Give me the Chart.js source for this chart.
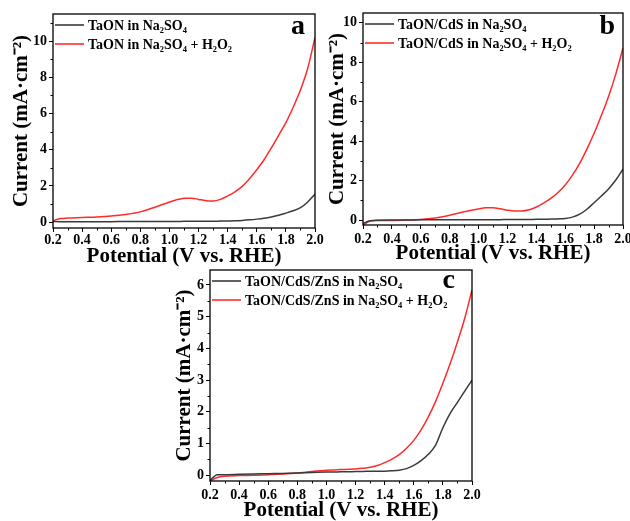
<!DOCTYPE html>
<html>
<head>
    <meta charset="utf-8">
    <title>LSV curves</title>
    <script src="https://cdn.jsdelivr.net/npm/chart.js@4.4.0/dist/chart.umd.min.js"></script>
    <style>
        body { margin: 0; background: #fff; overflow: hidden; width: 630px; height: 521px; position: relative; }
        canvas { position: absolute; }
    </style>
</head>
<body>
    <canvas id="chartA" width="330" height="269" style="left:0px; top:0px;"></canvas>
    <canvas id="chartB" width="315" height="266" style="left:315px; top:0px;"></canvas>
    <canvas id="chartC" width="330" height="261" style="left:160px; top:262px;"></canvas>

    <script>
        // Potential (V vs. RHE)
        const potentials = [0.20, 0.25, 0.30, 0.40, 0.50, 0.60, 0.70, 0.80, 0.90, 1.00, 1.05, 1.10, 1.15, 1.20, 1.25,
            1.30, 1.35, 1.40, 1.45, 1.50, 1.55, 1.60, 1.65, 1.70, 1.75, 1.80, 1.85, 1.90, 1.95, 2.00];

        // Panel a - TaON
        const taonNa2SO4 = [0.04, 0.03, 0.03, 0.03, 0.03, 0.03, 0.04, 0.04, 0.04, 0.04, 0.04, 0.05, 0.05, 0.05, 0.05,
            0.05, 0.06, 0.07, 0.08, 0.10, 0.13, 0.17, 0.22, 0.29, 0.38, 0.50, 0.63, 0.80, 1.12, 1.55];
        const taonH2O2 = [0.09, 0.20, 0.23, 0.26, 0.29, 0.34, 0.43, 0.57, 0.83, 1.12, 1.24, 1.32, 1.33, 1.26, 1.19,
            1.17, 1.26, 1.45, 1.68, 1.98, 2.40, 2.90, 3.45, 4.10, 4.80, 5.50, 6.35, 7.30, 8.50, 10.20];

        // Panel b - TaON/CdS
        const cdsNa2SO4 = [-0.17, -0.03, -0.01, 0.00, 0.00, 0.01, 0.01, 0.02, 0.02, 0.02, 0.02, 0.02, 0.02, 0.03, 0.03,
            0.03, 0.03, 0.04, 0.04, 0.05, 0.06, 0.08, 0.15, 0.30, 0.55, 0.88, 1.22, 1.58, 2.03, 2.58];
        const cdsH2O2 = [-0.25, -0.05, -0.02, -0.02, 0.00, 0.03, 0.10, 0.24, 0.42, 0.56, 0.62, 0.62, 0.57, 0.50, 0.46,
            0.46, 0.52, 0.66, 0.86, 1.10, 1.40, 1.78, 2.28, 2.88, 3.60, 4.40, 5.30, 6.27, 7.40, 8.73];

        // Panel c - TaON/CdS/ZnS
        const znsNa2SO4 = [-0.16, 0.02, 0.02, 0.03, 0.04, 0.05, 0.06, 0.07, 0.09, 0.10, 0.10, 0.11, 0.11, 0.12, 0.12,
            0.13, 0.13, 0.13, 0.14, 0.16, 0.21, 0.31, 0.46, 0.66, 0.95, 1.50, 1.95, 2.30, 2.65, 3.00];
        const znsH2O2 = [-0.18, -0.07, -0.03, -0.01, 0.00, 0.02, 0.04, 0.07, 0.12, 0.16, 0.17, 0.18, 0.19, 0.20, 0.22,
            0.25, 0.31, 0.40, 0.51, 0.65, 0.85, 1.10, 1.43, 1.84, 2.33, 2.90, 3.52, 4.20, 4.95, 5.84];

        // Ticks
        const xTicks = [0.2, 0.4, 0.6, 0.8, 1.0, 1.2, 1.4, 1.6, 1.8, 2.0];
        const xMinor = [0.3, 0.5, 0.7, 0.9, 1.1, 1.3, 1.5, 1.7, 1.9];
        const yTicksAB = [0, 2, 4, 6, 8, 10];
        const yMinorA = [1, 3, 5, 7, 9, 11];
        const yMinorB = [1, 3, 5, 7, 9];
        const yTicksC = [0, 1, 2, 3, 4, 5, 6];
        const yMinorC = [0.5, 1.5, 2.5, 3.5, 4.5, 5.5];

        const serif = "'Liberation Serif', 'Times New Roman', serif";
        const blackLine = '#3a3a3a';
        const redLine = '#ff2b2b';

        // khung, vạch phụ, chú thích và chữ cái của panel
        const decor = {
            id: 'decor',
            afterDatasetsDraw(chart) {
                const ctx = chart.ctx;
                const a = chart.chartArea;
                const o = chart.options.plugins.decor;
                const x = chart.scales.x, y = chart.scales.y;

                ctx.save();
                ctx.strokeStyle = '#000';
                ctx.lineWidth = 1.3;
                ctx.strokeRect(a.left, a.top, a.right - a.left, a.bottom - a.top);

                // minor ticks
                ctx.lineWidth = 1;
                ctx.beginPath();
                xMinor.forEach(v => {
                    const px = Math.round(x.getPixelForValue(v)) + 0.5;
                    ctx.moveTo(px, a.bottom);
                    ctx.lineTo(px, a.bottom + 2.5);
                });
                o.yMinor.forEach(v => {
                    const py = Math.round(y.getPixelForValue(v)) + 0.5;
                    if (py < a.top || py > a.bottom) return;
                    ctx.moveTo(a.left, py);
                    ctx.lineTo(a.left - 2.5, py);
                });
                ctx.stroke();

                // legend
                ctx.font = 'bold 14px ' + serif;
                ctx.textBaseline = 'middle';
                ctx.textAlign = 'left';
                chart.data.datasets.forEach((ds, i) => {
                    const ly = a.top + 11 + i * 19;
                    ctx.strokeStyle = ds.borderColor;
                    ctx.lineWidth = 1.6;
                    ctx.beginPath();
                    ctx.moveTo(a.left + 2, ly);
                    ctx.lineTo(a.left + 31, ly);
                    ctx.stroke();
                    ctx.fillStyle = '#000';
                    ctx.fillText(ds.label, a.left + 35, ly + 1);
                });

                // chữ a / b / c
                ctx.font = 'bold 28px ' + serif;
                ctx.textAlign = 'right';
                ctx.textBaseline = 'alphabetic';
                ctx.fillText(o.letter, a.right - o.letterDx, a.top + o.letterDy);
                ctx.restore();
            }
        };

        function makeChart(id, cfg) {
            return new Chart(document.getElementById(id), {
                type: 'line',
                data: {
                    datasets: [
                        {
                            label: cfg.labels[0],
                            data: potentials.map((p, i) => ({ x: p, y: cfg.black[i] })),
                            borderColor: blackLine,
                            borderWidth: 1.5
                        },
                        {
                            label: cfg.labels[1],
                            data: potentials.map((p, i) => ({ x: p, y: cfg.red[i] })),
                            borderColor: redLine,
                            borderWidth: 1.5
                        }
                    ]
                },
                options: {
                    responsive: false,
                    animation: false,
                    devicePixelRatio: 1,
                    layout: { padding: cfg.padding },
                    elements: {
                        point: { radius: 0 },
                        line: { cubicInterpolationMode: 'monotone' }
                    },
                    plugins: {
                        legend: { display: false },
                        tooltip: { enabled: false },
                        decor: { letter: cfg.letter, letterDx: cfg.letterDx, letterDy: cfg.letterDy, yMinor: cfg.yMinor }
                    },
                    scales: {
                        x: {
                            type: 'linear',
                            min: 0.2,
                            max: 2.0,
                            border: { display: false },
                            grid: { drawOnChartArea: false, drawTicks: true, tickLength: 4, color: '#000' },
                            ticks: {
                                color: '#000',
                                padding: cfg.xPad,
                                font: { family: serif, size: 14, weight: 'bold' },
                                callback: v => v.toFixed(1)
                            },
                            afterBuildTicks: s => { s.ticks = xTicks.map(v => ({ value: v })); },
                            afterFit: s => { s.height = cfg.xH; s.paddingLeft = 0; s.paddingRight = 0; },
                            title: {
                                display: true,
                                text: 'Potential (V vs. RHE)',
                                color: '#000',
                                padding: 0,
                                font: { family: serif, size: 21, weight: 'bold' }
                            }
                        },
                        y: {
                            min: cfg.yMin,
                            max: cfg.yMax,
                            border: { display: false },
                            grid: { drawOnChartArea: false, drawTicks: true, tickLength: 4, color: '#000' },
                            ticks: {
                                color: '#000',
                                padding: 2,
                                font: { family: serif, size: 14, weight: 'bold' }
                            },
                            afterBuildTicks: s => { s.ticks = cfg.yTicks.map(v => ({ value: v })); },
                            afterFit: s => { s.width = cfg.yW; s.paddingTop = 0; s.paddingBottom = 0; },
                            title: {
                                display: true,
                                text: 'Current (mA·cm⁻²)',
                                color: '#000',
                                padding: 0,
                                font: { family: serif, size: 21, weight: 'bold' }
                            }
                        }
                    }
                },
                plugins: [decor]
            });
        }

        makeChart('chartA', {
            labels: ['TaON in Na₂SO₄', 'TaON in Na₂SO₄ + H₂O₂'],
            black: taonNa2SO4, red: taonH2O2,
            yMin: -0.32, yMax: 11.5, yTicks: yTicksAB, yMinor: yMinorA,
            padding: { left: 9.4, top: 14, right: 15, bottom: 0 }, yW: 43.6, xH: 41, xPad: 0,
            letter: 'a', letterDx: 10, letterDy: 20
        });

        makeChart('chartB', {
            labels: ['TaON/CdS in Na₂SO₄', 'TaON/CdS in Na₂SO₄ + H₂O₂'],
            black: cdsNa2SO4, red: cdsH2O2,
            yMin: -0.25, yMax: 10.5, yTicks: yTicksAB, yMinor: yMinorB,
            padding: { left: 10.4, top: 13, right: 7, bottom: 0 }, yW: 37.6, xH: 41, xPad: 2,
            letter: 'b', letterDx: 8, letterDy: 21
        });

        makeChart('chartC', {
            labels: ['TaON/CdS/ZnS in Na₂SO₄', 'TaON/CdS/ZnS in Na₂SO₄ + H₂O₂'],
            black: znsNa2SO4, red: znsH2O2,
            yMin: -0.18, yMax: 6.47, yTicks: yTicksC, yMinor: yMinorC,
            padding: { left: 12.4, top: 8, right: 18, bottom: 0 }, yW: 37.6, xH: 42, xPad: 2,
            letter: 'c', letterDx: 17, letterDy: 18
        });
    </script>
</body>
</html>
